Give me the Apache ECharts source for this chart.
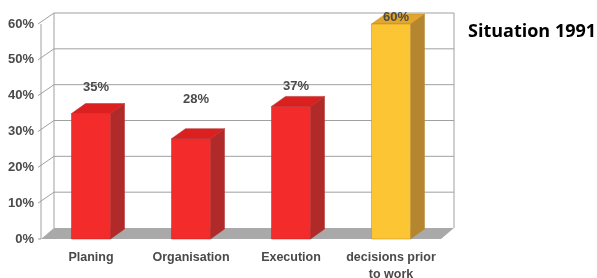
<!DOCTYPE html>
<html>
<head>
<meta charset="utf-8">
<script src="https://cdn.jsdelivr.net/npm/echarts@6/dist/echarts.min.js"></script>
<style>html,body{margin:0;padding:0;background:#fff;}#c{width:597px;height:278px;}</style>
</head>
<body>
<div id="c"></div>
<script>
const categories = ['Planing', 'Organisation', 'Execution', 'decisions prior\nto work'];
const values = [35, 28, 37, 60];
const valueLabels = ['35%', '28%', '37%', '60%'];
const yTicks = [0, 10, 20, 30, 40, 50, 60];
const titleText = 'Situation 1991';

// styles / layout (not data)
const faceColors = [
  {front: '#f32b2b', top: '#dc2020', side: '#b02a2a'},
  {front: '#f32b2b', top: '#dc2020', side: '#b02a2a'},
  {front: '#f32b2b', top: '#dc2020', side: '#b02a2a'},
  {front: '#fcc533', top: '#e2a62c', side: '#b5862f'}
];
const labelRaise = [26, 39, 20, 7];
const WDX = 13, WDY = -11;   // wall depth
const BDX = 14, BDY = -10;   // bar depth

const chart = echarts.init(document.getElementById('c'), null, {renderer: 'canvas'});

chart.setOption({
  animation: false,
  backgroundColor: '#fff',
  title: {
    text: titleText, left: 463, top: 18,
    textStyle: {fontFamily: 'Open Sans', fontWeight: 'bold', fontSize: 18, color: '#000'}
  },
  grid: {left: 41, right: 156, top: 24, bottom: 39, containLabel: false, outerBoundsMode: 'none'},
  xAxis: {
    type: 'category', data: categories,
    axisLine: {show: false}, axisTick: {show: false},
    axisLabel: {
      interval: 0, margin: 10, color: '#4a4a4a', fontFamily: 'Liberation Sans, Arial',
      fontWeight: 'bold', fontSize: 12.5, lineHeight: 17
    }
  },
  yAxis: {
    type: 'value', min: 0, max: 60, interval: 10,
    splitLine: {show: false},
    axisLine: {show: false}, axisTick: {show: false},
    axisLabel: {
      formatter: '{value}%', margin: 7, color: '#4a4a4a',
      fontFamily: 'Liberation Sans, Arial', fontWeight: 'bold', fontSize: 13
    }
  },
  series: [
    {
      type: 'custom', z: 1, silent: true,
      data: yTicks.map(v => [0, v]),
      renderItem: function (params, api) {
        const cs = params.coordSys;
        const v = api.value(1);
        const y = api.coord([0, v])[1];
        const xL = cs.x, xR = cs.x + cs.width;
        const children = [];
        const line = {stroke: '#a0a0a0', lineWidth: 1};
        if (params.dataIndex === 0) {
          const yb = cs.y + cs.height, yt = cs.y;
          children.push({type: 'polygon', shape: {points: [[xL, yb], [xR, yb], [xR + WDX, yb + WDY], [xL + WDX, yb + WDY]]}, style: {fill: '#a9a9a9'}});
          children.push({type: 'line', shape: {x1: xL, y1: yt, x2: xL, y2: yb}, style: line});
          children.push({type: 'line', shape: {x1: xL + WDX, y1: yt + WDY, x2: xL + WDX, y2: yb + WDY}, style: line});
          children.push({type: 'line', shape: {x1: xR + WDX, y1: yt + WDY, x2: xR + WDX, y2: yb + WDY}, style: line});
          children.push({type: 'line', shape: {x1: xL - 3, y1: yb, x2: xL, y2: yb}, style: line});
        } else {
          children.push({type: 'line', shape: {x1: xL + WDX, y1: y + WDY, x2: xR + WDX, y2: y + WDY}, style: line});
          children.push({type: 'line', shape: {x1: xL - 3, y1: y, x2: xL + WDX, y2: y + WDY}, style: line});
        }
        return {type: 'group', children: children};
      }
    },
    {
      type: 'custom', z: 2, silent: true,
      data: values.map((v, i) => [i, v]),
      renderItem: function (params, api) {
        const i = api.value(0), v = api.value(1);
        const top = api.coord([i, v]);
        const base = api.coord([i, 0]);
        const w = api.size([1, 0])[0] * 0.39;
        const x0 = top[0] - w / 2, x1 = top[0] + w / 2;
        const yt = top[1], yb = base[1];
        const c = faceColors[i];
        return {
          type: 'group',
          children: [
            {type: 'polygon', shape: {points: [[x1, yt], [x1 + BDX, yt + BDY], [x1 + BDX, yb + BDY], [x1, yb]]}, style: {fill: c.side, stroke: c.side, lineWidth: 0.5}},
            {type: 'polygon', shape: {points: [[x0, yt], [x1, yt], [x1 + BDX, yt + BDY], [x0 + BDX, yt + BDY]]}, style: {fill: c.top, stroke: c.side, lineWidth: 0.5}},
            {type: 'rect', shape: {x: x0, y: yt, width: w, height: yb - yt}, style: {fill: c.front, stroke: c.side, lineWidth: 0.5}},
            {type: 'text', z2: 10, style: {
              text: valueLabels[i], x: top[0] + 5, y: yt - labelRaise[i],
              align: 'center', verticalAlign: 'middle',
              font: 'bold 13px "Liberation Sans", Arial', fill: '#4a4a4a'
            }}
          ]
        };
      }
    }
  ]
});
</script>
</body>
</html>
